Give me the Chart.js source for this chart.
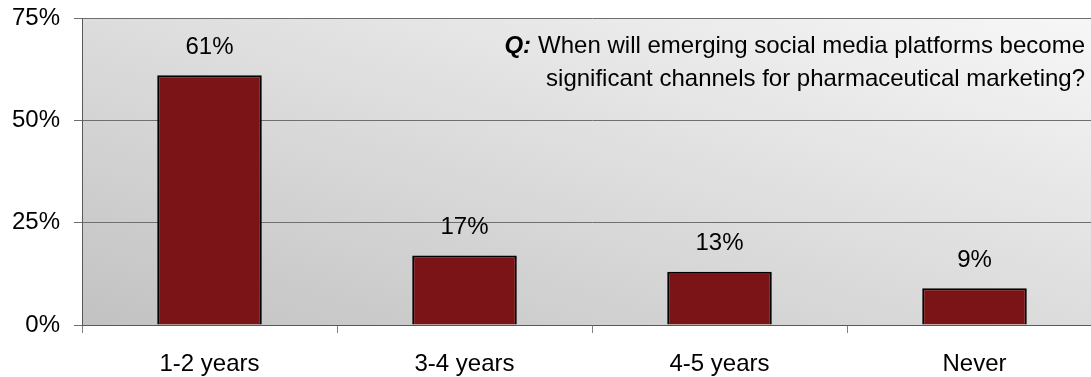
<!DOCTYPE html>
<html>
<head>
<meta charset="utf-8">
<script src="https://cdn.jsdelivr.net/npm/chart.js@4.4.1/dist/chart.umd.min.js"></script>
<style>
  html, body { margin: 0; padding: 0; background: #fff; overflow: hidden; }
  #wrap { width: 1110px; height: 377px; }
</style>
</head>
<body>
<div id="wrap"><canvas id="chart" width="1110" height="377"></canvas></div>
<script>
const categories = ['1-2 years', '3-4 years', '4-5 years', 'Never'];
const shares = [61, 17, 13, 9];
const yTicks = [0, 25, 50, 75];
const questionLines = [
  'When will emerging social media platforms become',
  'significant channels for pharmaceutical marketing?'
];

const FONT = '"Liberation Sans", Arial, sans-serif';

// diagonal grey fill behind the bars, darker bottom-left to lighter top-right
const plotBackground = {
  id: 'plotBackground',
  beforeDraw(chart) {
    const { ctx, chartArea: a } = chart;
    ctx.save();
    ctx.translate(a.left, a.top);
    ctx.scale(a.right - a.left, a.bottom - a.top);
    const g = ctx.createLinearGradient(0, 1, 1, 0);
    g.addColorStop(0, '#c2c2c2');
    g.addColorStop(1, '#f7f7f7');
    ctx.fillStyle = g;
    ctx.fillRect(0, 0, 1, 1);
    ctx.restore();
  }
};

// percentage above each bar and the question text
const annotations = {
  id: 'annotations',
  afterDatasetsDraw(chart) {
    const { ctx } = chart;
    const meta = chart.getDatasetMeta(0);
    ctx.save();
    ctx.fillStyle = '#000';
    ctx.font = '24px ' + FONT;
    ctx.textAlign = 'center';
    ctx.textBaseline = 'middle';
    meta.data.forEach((bar, i) => {
      ctx.fillText(shares[i] + '%', bar.x, bar.y - 28);
    });

    const right = 1085;
    ctx.font = '24px ' + FONT;
    ctx.textAlign = 'right';
    ctx.fillText(questionLines[0], right, 46);
    ctx.fillText(questionLines[1], right, 79);
    const w = ctx.measureText(questionLines[0]).width;
    ctx.font = 'italic bold 24px ' + FONT;
    ctx.fillText('Q:', right - w - 7, 46);
    ctx.restore();
  }
};

new Chart(document.getElementById('chart'), {
  type: 'bar',
  data: {
    labels: categories,
    datasets: [{
      data: shares,
      backgroundColor: '#7b1416',
      borderColor: '#000',
      borderWidth: 2,
      borderSkipped: 'bottom',
      barPercentage: 0.41,
      categoryPercentage: 1
    }]
  },
  options: {
    responsive: false,
    animation: false,
    devicePixelRatio: 1,
    layout: { padding: { top: 18, right: 8, left: 0, bottom: 0 } },
    plugins: { legend: { display: false }, tooltip: { enabled: false } },
    scales: {
      x: {
        afterFit(scale) {
          scale.height = 52;
          scale.paddingLeft = 0;
          scale.paddingRight = 0;
        },
        grid: {
          offset: true,
          drawOnChartArea: false,
          color: '#7f7f7f',
          tickLength: 8
        },
        border: { color: '#595959', width: 1 },
        ticks: { color: '#000', font: { family: FONT, size: 24 }, padding: 17 }
      },
      y: {
        min: 0,
        max: 75,
        afterFit(scale) {
          scale.width = 82;
          scale.paddingTop = 0;
          scale.paddingBottom = 0;
        },
        afterBuildTicks(scale) { scale.ticks = yTicks.map(v => ({ value: v })); },
        grid: { color: '#6f6f6f', tickLength: 8 },
        border: { color: '#595959', width: 1 },
        ticks: {
          color: '#000',
          font: { family: FONT, size: 24 },
          padding: 14,
          callback: v => v + '%'
        }
      }
    }
  },
  plugins: [plotBackground, annotations]
});
</script>
</body>
</html>
